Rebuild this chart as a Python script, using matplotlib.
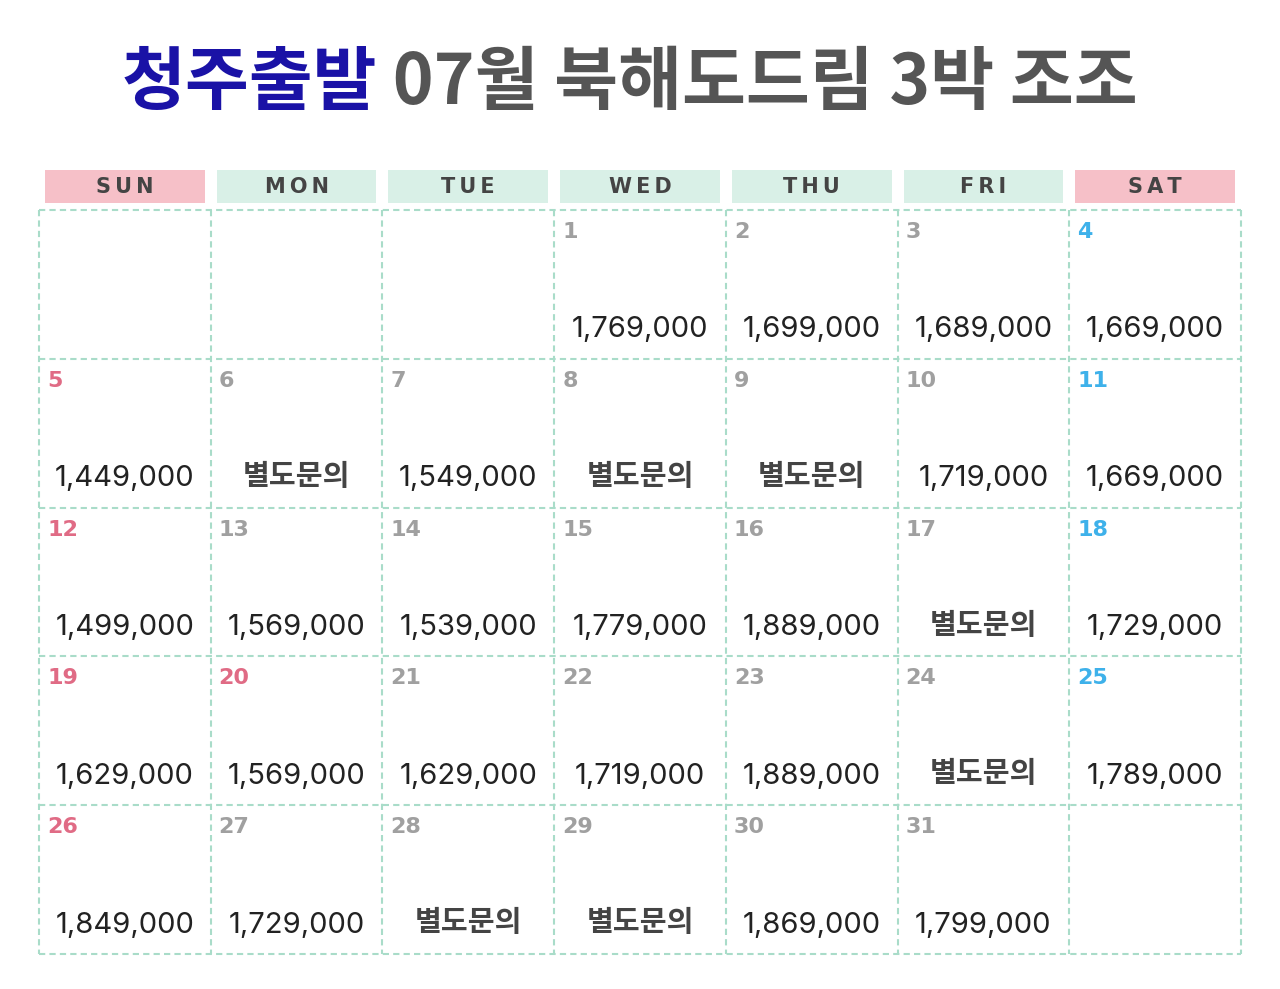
import matplotlib
matplotlib.use("Agg")
import matplotlib.pyplot as plt
from matplotlib.patches import Rectangle

plt.rcParams['font.family'] = ['Noto Sans CJK KR', 'DejaVu Sans']

title_blue = "청주출발"
title_rest = " 07월 북해도드림 3박 조조"
weekdays = ["SUN", "MON", "TUE", "WED", "THU", "FRI", "SAT"]
first_weekday = 3  # July 1 is Wednesday
days = list(range(1, 32))
prices = ["1,769,000", "1,699,000", "1,689,000", "1,669,000",
          "1,449,000", "별도문의", "1,549,000", "별도문의", "별도문의", "1,719,000", "1,669,000",
          "1,499,000", "1,569,000", "1,539,000", "1,779,000", "1,889,000", "별도문의", "1,729,000",
          "1,629,000", "1,569,000", "1,629,000", "1,719,000", "1,889,000", "별도문의", "1,789,000",
          "1,849,000", "1,729,000", "별도문의", "별도문의", "1,869,000", "1,799,000"]
holidays = [20]

fig = plt.figure(figsize=(12.8, 9.89), dpi=100)
ax = fig.add_axes([0, 0, 1, 1])
ax.set_xlim(0, 1280); ax.set_ylim(989, 0); ax.axis('off')

t1 = ax.text(0, 0, title_blue, fontsize=50, fontweight='bold', color='#1a12a6', va='center')
t2 = ax.text(0, 0, title_rest, fontsize=50, fontweight='bold', color='#555555', va='center')
fig.canvas.draw()
r = fig.canvas.get_renderer()
w1 = t1.get_window_extent(r).width; w2 = t2.get_window_extent(r).width
x0 = 630 - (w1 + w2) / 2
t1.set_position((x0, 84)); t2.set_position((x0 + w1, 84))

gx0, gx1, gy0, gy1 = 39, 1241, 210, 954
cw = (gx1 - gx0) / 7
rh = (gy1 - gy0) / 5
mint = '#a9dcc9'

for i, wd in enumerate(weekdays):
    col = '#f6c0c8' if i in (0, 6) else '#d9f0e7'
    ax.add_patch(Rectangle((gx0 + i * cw + 6, 170), cw - 12, 33, color=col, lw=0))
    ax.text(gx0 + (i + 0.5) * cw, 187, "\u2009".join(wd), fontsize=15, fontweight='bold',
            color='#444444', ha='center', va='center', family=['DejaVu Sans'])

for i in range(8):
    ax.plot([gx0 + i * cw] * 2, [gy0, gy1], ls=(0, (3, 2)), color=mint, lw=1.5)
for j in range(6):
    ax.plot([gx0, gx1], [gy0 + j * rh] * 2, ls=(0, (3, 2)), color=mint, lw=1.5)

for d, p in zip(days, prices):
    k = first_weekday + d - 1
    c, rr = k % 7, k // 7
    cx, cy = gx0 + c * cw, gy0 + rr * rh
    if c == 0 or d in holidays:
        nc = '#e06b85'
    elif c == 6:
        nc = '#3eb1ea'
    else:
        nc = '#a0a0a0'
    ax.text(cx + 8, cy + 22, str(d), fontsize=16, fontweight='bold', color=nc, va='center',
            family=['DejaVu Sans'])
    if p.startswith('1'):
        ax.text(cx + cw / 2, cy + 120, p, fontsize=21, color='#222222', ha='center', va='center',
                family=['Inter', 'DejaVu Sans'])
    else:
        ax.text(cx + cw / 2, cy + 117, p, fontsize=21, fontweight='bold', color='#444444',
                ha='center', va='center')

fig.savefig("out.png", dpi=100)
